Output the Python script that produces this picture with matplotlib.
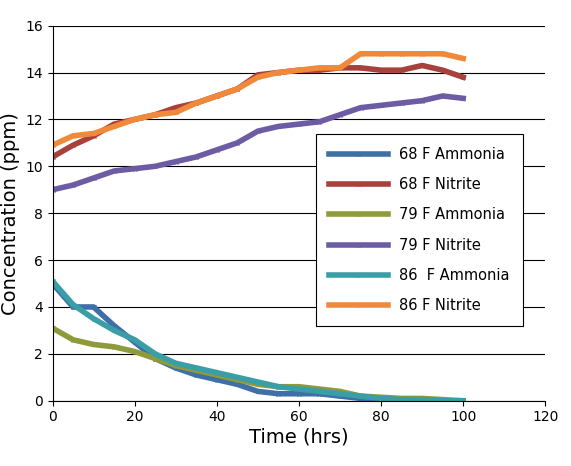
import matplotlib.pyplot as plt

hours = [0, 5, 10, 15, 20, 25, 30, 35, 40, 45, 50, 55, 60, 65, 70, 75, 80, 85, 90, 95, 100]

amm_68 = [5.0, 4.0, 4.0, 3.2, 2.5, 1.8, 1.4, 1.1, 0.9, 0.7, 0.4, 0.3, 0.3, 0.3, 0.2, 0.1, 0.1, 0.05, 0.05, 0.0, 0.0]
nit_68 = [10.4, 10.9, 11.3, 11.8, 12.0, 12.2, 12.5, 12.7, 13.0, 13.3, 13.9, 14.0, 14.1, 14.1, 14.2, 14.2, 14.1, 14.1, 14.3, 14.1, 13.8]
amm_79 = [3.1, 2.6, 2.4, 2.3, 2.1, 1.8, 1.5, 1.3, 1.1, 0.9, 0.7, 0.6, 0.6, 0.5, 0.4, 0.2, 0.15, 0.1, 0.1, 0.05, 0.0]
nit_79 = [9.0, 9.2, 9.5, 9.8, 9.9, 10.0, 10.2, 10.4, 10.7, 11.0, 11.5, 11.7, 11.8, 11.9, 12.2, 12.5, 12.6, 12.7, 12.8, 13.0, 12.9]
amm_86 = [5.1, 4.1, 3.5, 3.0, 2.6, 2.0, 1.6, 1.4, 1.2, 1.0, 0.8, 0.6, 0.5, 0.4, 0.3, 0.2, 0.1, 0.05, 0.05, 0.0, 0.0]
nit_86 = [10.9, 11.3, 11.4, 11.7, 12.0, 12.2, 12.3, 12.7, 13.0, 13.3, 13.8, 14.0, 14.1, 14.2, 14.2, 14.8, 14.8, 14.8, 14.8, 14.8, 14.6]

series = [
    ('68 F Ammonia', amm_68, '#3e6fa7'),
    ('68 F Nitrite', nit_68, '#a8403c'),
    ('79 F Ammonia', amm_79, '#8f9a3a'),
    ('79 F Nitrite', nit_79, '#6d5ba3'),
    ('86  F Ammonia', amm_86, '#3a9ea6'),
    ('86 F Nitrite', nit_86, '#f0893a'),
]

fig, ax = plt.subplots(figsize=(5.71, 4.66), dpi=100)
fig.subplots_adjust(left=0.092, right=0.955, top=0.945, bottom=0.14)

for name, vals, col in series:
    ax.plot(hours, vals, color=col, linewidth=4, marker='x', markersize=3, label=name)

ax.set_xlim(0, 120)
ax.set_ylim(0, 16)
ax.set_xticks(range(0, 121, 20))
ax.set_yticks(range(0, 17, 2))
ax.yaxis.grid(True, color='black', linewidth=0.8)
ax.set_axisbelow(True)
ax.spines['top'].set_visible(False)
ax.spines['right'].set_visible(False)
ax.tick_params(labelsize=10)
ax.set_xlabel('Time (hrs)', fontsize=14, labelpad=2)
ax.set_ylabel('Concentration (ppm)', fontsize=14, labelpad=4)

leg = ax.legend(loc='center left', bbox_to_anchor=(0.52, 0.455), fontsize=10.5,
                frameon=True, fancybox=False, edgecolor='black', framealpha=1,
                handlelength=4, labelspacing=1.05, borderpad=0.9)
leg.get_frame().set_linewidth(0.8)

plt.savefig('out.png')
